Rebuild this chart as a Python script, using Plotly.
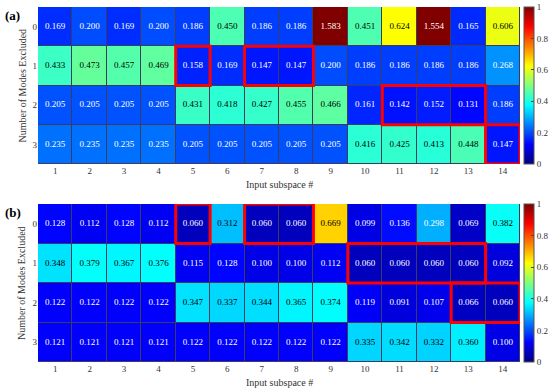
import plotly.graph_objects as go

x_labels = [str(i) for i in range(1, 15)]
y_labels = ["0", "1", "2", "3"]

vals_a = [
    [0.169, 0.200, 0.169, 0.200, 0.186, 0.450, 0.186, 0.186, 1.583, 0.451, 0.624, 1.554, 0.165, 0.606],
    [0.433, 0.473, 0.457, 0.469, 0.158, 0.169, 0.147, 0.147, 0.200, 0.186, 0.186, 0.186, 0.186, 0.268],
    [0.205, 0.205, 0.205, 0.205, 0.431, 0.418, 0.427, 0.455, 0.466, 0.161, 0.142, 0.152, 0.131, 0.186],
    [0.235, 0.235, 0.235, 0.235, 0.205, 0.205, 0.205, 0.205, 0.205, 0.416, 0.425, 0.413, 0.448, 0.147],
]
vals_b = [
    [0.128, 0.112, 0.128, 0.112, 0.060, 0.312, 0.060, 0.060, 0.669, 0.099, 0.136, 0.298, 0.069, 0.382],
    [0.348, 0.379, 0.367, 0.376, 0.115, 0.128, 0.100, 0.100, 0.112, 0.060, 0.060, 0.060, 0.060, 0.092],
    [0.122, 0.122, 0.122, 0.122, 0.347, 0.337, 0.344, 0.365, 0.374, 0.119, 0.091, 0.107, 0.066, 0.060],
    [0.121, 0.121, 0.121, 0.121, 0.122, 0.122, 0.122, 0.122, 0.122, 0.335, 0.342, 0.332, 0.360, 0.100],
]
# highlighted blocks: (row, first column, last column), columns 1-based
boxes_a = [(1, 5, 5), (1, 7, 8), (2, 11, 13), (3, 14, 14)]
boxes_b = [(0, 5, 5), (0, 7, 8), (1, 10, 13), (2, 13, 14)]

jet = [
    [0.0, "rgb(0,0,128)"], [0.125, "rgb(0,0,255)"], [0.375, "rgb(0,255,255)"],
    [0.625, "rgb(255,255,0)"], [0.875, "rgb(255,0,0)"], [1.0, "rgb(128,0,0)"],
]
FONT = "Liberation Serif"
W, H = 550, 391

panels = [
    dict(vals=vals_a, boxes=boxes_a, label="(a)", top=7, bottom=164, ax=""),
    dict(vals=vals_b, boxes=boxes_b, label="(b)", top=204, bottom=362, ax="2"),
]
left, right = 38, 520

fig = go.Figure()
shapes = []
annotations = []
for p in panels:
    vals = p["vals"]
    xs = list(range(1, 15))
    ys = list(range(4))
    ydom = [1 - p["bottom"] / H, 1 - p["top"] / H]
    fig.add_trace(go.Heatmap(
        z=vals, x=xs, y=ys, colorscale=jet, zmin=0, zmax=1, xgap=1, ygap=1,
        xaxis="x" + p["ax"], yaxis="y" + p["ax"], hoverinfo="skip",
        colorbar=dict(x=524 / W, xanchor="left", thickness=10, thicknessmode="pixels",
                      y=ydom[0], yanchor="bottom", len=ydom[1] - ydom[0], lenmode="fraction",
                      tickvals=[0, 0.2, 0.4, 0.6, 0.8, 1], ticktext=["0", "0.2", "0.4", "0.6", "0.8", "1"],
                      ticks="inside", ticklen=3, tickcolor="#444", outlinewidth=1, outlinecolor="#555",
                      xpad=0, ypad=0,
                      tickfont=dict(family=FONT, size=9, color="#333")),
    ))
    tx, ty, tt, tc = [], [], [], []
    for r, row in enumerate(vals):
        for c, v in enumerate(row):
            tx.append(xs[c]); ty.append(ys[r]); tt.append(f"{v:.3f}")
            tc.append("black" if 0.3 <= v <= 0.85 else "white")
    fig.add_trace(go.Scatter(
        x=tx, y=ty, text=tt, mode="text", textfont=dict(family=FONT, size=9, color=tc),
        xaxis="x" + p["ax"], yaxis="y" + p["ax"], hoverinfo="skip", showlegend=False,
    ))
    for (r, c0, c1) in p["boxes"]:
        shapes.append(dict(type="rect", xref="x" + p["ax"], yref="y" + p["ax"],
                           x0=c0 - 0.5, x1=c1 + 0.5, y0=r - 0.5, y1=r + 0.5,
                           line=dict(color="red", width=3), fillcolor="rgba(0,0,0,0)"))
    axx = dict(domain=[left / W, right / W], range=[0.5, 14.5], tickvals=xs, ticktext=x_labels,
               showgrid=False, zeroline=False, ticks="", showline=False, automargin=False,
               tickfont=dict(family=FONT, size=9, color="#333"),
               anchor="y" + p["ax"])
    axy = dict(domain=ydom, range=[3.5, -0.5], tickvals=ys, ticktext=y_labels,
               showgrid=False, zeroline=False, ticks="", showline=False, automargin=False,
               tickfont=dict(family=FONT, size=9, color="#333"),
               anchor="x" + p["ax"])
    fig.update_layout({"xaxis" + p["ax"]: axx, "yaxis" + p["ax"]: axy})
    annotations.append(dict(text="<b>" + p["label"] + "</b>", xref="paper", yref="paper",
                            x=3 / W, y=1 - (p["top"] - 1) / H, xanchor="left", yanchor="top",
                            showarrow=False, font=dict(family=FONT, size=13, color="black")))
    annotations.append(dict(text="Input subspace #", xref="paper", yref="paper",
                            x=(left + right) / 2 / W, y=1 - (p["bottom"] + 20) / H,
                            xanchor="center", yanchor="middle", showarrow=False,
                            font=dict(family=FONT, size=10, color="#333")))
    annotations.append(dict(text="Number of Modes Excluded", xref="paper", yref="paper",
                            x=22 / W, y=(ydom[0] + ydom[1]) / 2, textangle=-90,
                            xanchor="center", yanchor="middle", showarrow=False,
                            font=dict(family=FONT, size=10, color="#333")))

fig.update_layout(
    width=W, height=H, margin=dict(l=0, r=0, t=0, b=0, autoexpand=False),
    paper_bgcolor="white", plot_bgcolor="#3c3c5c",
    shapes=shapes, annotations=annotations, showlegend=False,
)
fig.write_html("out.html", config={"displayModeBar": False},
               post_script="document.body.style.margin='0';document.body.style.padding='0';document.body.style.overflow='hidden';")
